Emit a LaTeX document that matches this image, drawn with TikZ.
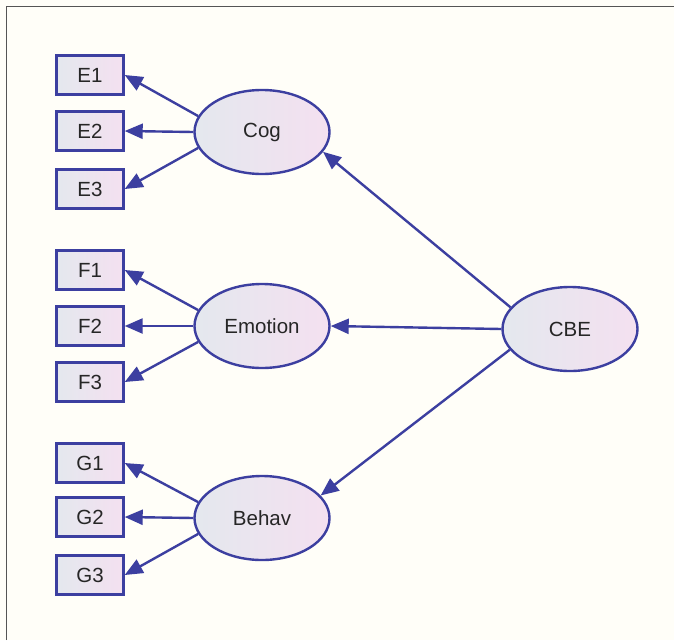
\documentclass[tikz,border=0pt]{standalone}
\usepackage{fontspec}
\setmainfont{Liberation Sans}
\usetikzlibrary{arrows.meta,shapes.geometric}
\definecolor{paper}{HTML}{FFFEF8}
\definecolor{edge}{HTML}{3C3FA0}
\definecolor{fillL}{HTML}{E4E8EE}
\definecolor{fillR}{HTML}{F4E0F0}
\definecolor{frame}{HTML}{555555}
\begin{document}
\begin{tikzpicture}[x=1pt,y=-1pt,
  obs/.style={draw=edge,line width=2.4pt,left color=fillL,right color=fillR,
    minimum width=67pt,minimum height=39pt,inner sep=0pt,
    font=\fontsize{20.5}{22}\selectfont,text=black!85},
  lat/.style={draw=edge,line width=2.4pt,ellipse,left color=fillL,right color=fillR,
    minimum width=135pt,minimum height=84pt,inner sep=0pt,
    font=\fontsize{20.5}{22}\selectfont,text=black!85},
  path/.style={draw=edge,line width=2.4pt,-{Triangle[length=18pt,width=15pt]}}]
  % canvas and frame
  \fill[paper] (0,0) rectangle (674,640);
  \useasboundingbox (0,0) rectangle (674,640);
  \draw[frame,line width=1.5pt] (6.5,640) -- (6.5,6.5) -- (674,6.5);

  % latent factors
  \node[lat] (cog) at (262,132) {Cog};
  \node[lat] (emo) at (262,326) {Emotion};
  \node[lat] (beh) at (262,518) {Behav};
  \node[lat] (cbe) at (570,329) {CBE};

  % indicators
  \node[obs] (e1) at (90,75) {E1};
  \node[obs] (e2) at (90,131) {E2};
  \node[obs] (e3) at (90,189) {E3};
  \node[obs] (f1) at (90,270) {F1};
  \node[obs] (f2) at (90,326) {F2};
  \node[obs] (f3) at (90,382) {F3};
  \node[obs] (g1) at (90,463) {G1};
  \node[obs] (g2) at (90,517) {G2};
  \node[obs] (g3) at (90,575) {G3};

  % loadings
  \foreach \l/\a/\b/\c in {cog/e1/e2/e3, emo/f1/f2/f3, beh/g1/g2/g3}{
    \draw[path] (\l.{166}) -- (\a.east);
    \draw[path] (\l.west) -- (\b.east);
    \draw[path] (\l.{194}) -- (\c.east);
  }

  % higher-order paths
  \draw[path] (cbe.{160}) -- (cog.{-18});
  \draw[path] (cbe.west) -- (emo.east);
  \draw[path] (cbe.{199}) -- (beh.{21});
\end{tikzpicture}
\end{document}
